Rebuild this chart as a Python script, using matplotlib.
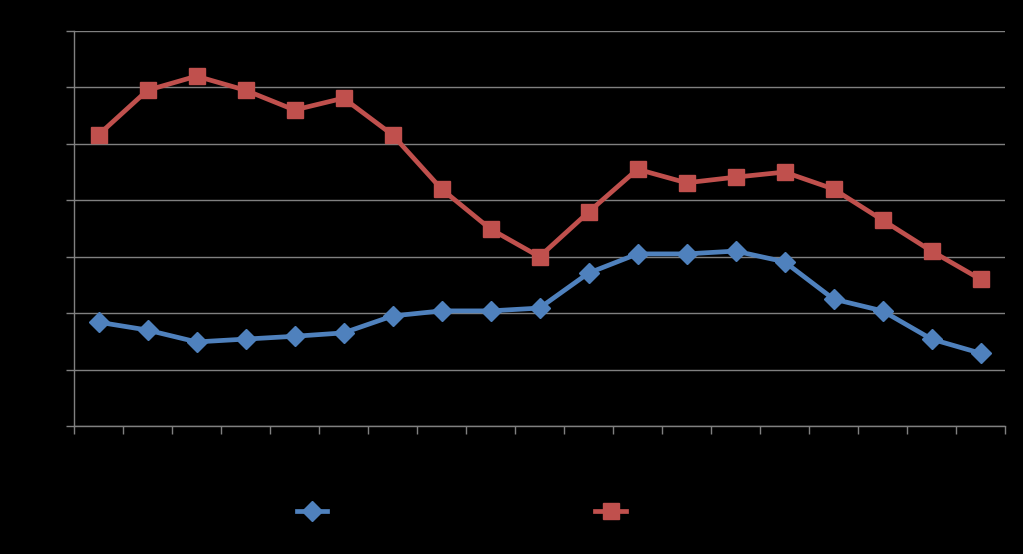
import numpy as np
import matplotlib
matplotlib.use("Agg")
import matplotlib.pyplot as plt

# values (units of one gridline step)
categories = list(range(1, 20))
series1 = [1.84, 1.70, 1.49, 1.54, 1.59, 1.65, 1.95, 2.04, 2.04, 2.09,
           2.71, 3.05, 3.05, 3.10, 2.91, 2.25, 2.04, 1.54, 1.29]
series2 = [5.16, 5.95, 6.20, 5.95, 5.60, 5.81, 5.16, 4.20, 3.49, 3.00,
           3.79, 4.55, 4.31, 4.41, 4.50, 4.20, 3.65, 3.10, 2.60]
y_ticks = list(range(0, 8))

BLUE = "#4F81BD"
RED = "#C0504D"
GRID = "#808080"

fig = plt.figure(figsize=(10.23, 5.54), dpi=100, facecolor="black")
ax = fig.add_axes([74 / 1023, 1 - 426 / 554, 931 / 1023, 395 / 554])
ax.set_facecolor("black")

x = np.arange(len(categories))
ax.plot(x, series1, color=BLUE, lw=3.4, marker="D", markersize=10,
        label="Series1", solid_joinstyle="round")
ax.plot(x, series2, color=RED, lw=3.4, marker="s", markersize=12,
        label="Series2", solid_joinstyle="round")

ax.set_xlim(-0.5, len(categories) - 0.5)
ax.set_ylim(0, 7)
ax.set_yticks(y_ticks)
ax.set_xticks(np.arange(len(categories) + 1) - 0.5)
ax.set_xticklabels([])
ax.set_yticklabels([])
ax.grid(True, axis="y", color=GRID, lw=1)
ax.set_axisbelow(True)

for s in ["top", "right"]:
    ax.spines[s].set_visible(False)
for s in ["left", "bottom"]:
    ax.spines[s].set_color(GRID)
    ax.spines[s].set_linewidth(1)
ax.tick_params(axis="both", colors=GRID, length=6, width=1, direction="out")

leg = fig.legend(loc="center", bbox_to_anchor=(0.4815, 1 - 512 / 554), ncol=2,
                 frameon=False, handlelength=2.2, columnspacing=14.8,
                 fontsize=10)
for t in leg.get_texts():
    t.set_color("black")

fig.savefig("out.png", facecolor="black")
